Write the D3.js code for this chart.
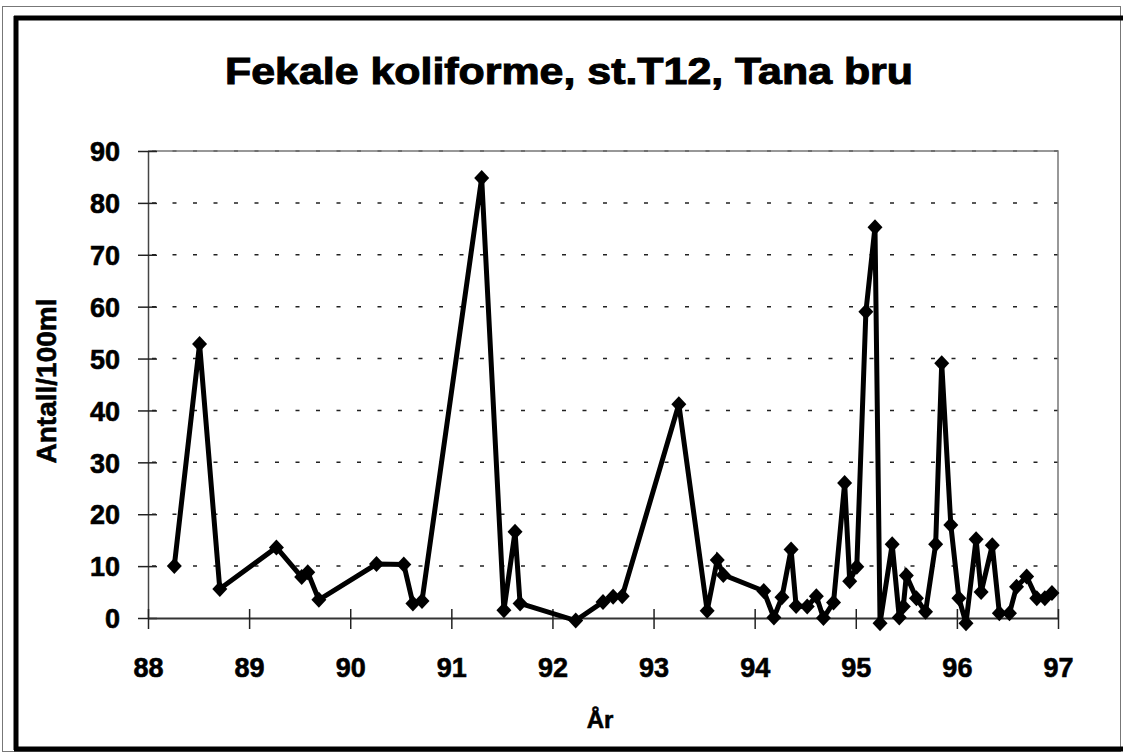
<!DOCTYPE html>
<html>
<head>
<meta charset="utf-8">
<script src="https://cdn.jsdelivr.net/npm/d3@7"></script>
<style>
  body { margin: 0; background: #fff; }
  text { font-family: "Liberation Sans", Arial, sans-serif; font-weight: bold; fill: #000; stroke: #000; stroke-width: 0.6px; }
</style>
</head>
<body>
<div id="chart"></div>
<script>
// sampling dates (decimal year, 88 = 1988) and counts per 100 ml
const years = [
  88.26, 88.51, 88.71, 89.27, 89.52, 89.58, 89.69, 90.26, 90.53, 90.62,
  90.71, 91.30, 91.52, 91.63, 91.68, 92.23, 92.50, 92.60, 92.69, 93.25,
  93.53, 93.63, 93.69, 94.09, 94.19, 94.27, 94.36, 94.41, 94.52, 94.61,
  94.68, 94.78, 94.89, 94.94, 95.01, 95.10, 95.19, 95.24, 95.36, 95.43,
  95.47, 95.50, 95.60, 95.69, 95.79, 95.85, 95.94, 96.02, 96.09, 96.19,
  96.24, 96.35, 96.42, 96.52, 96.59, 96.69, 96.79, 96.87, 96.94
];
const counts = [
  10.0, 52.8, 5.6, 13.6, 7.9, 8.8, 3.5, 10.4, 10.3, 2.8,
  3.3, 84.8, 1.5, 16.6, 2.8, -0.5, 3.1, 4.1, 4.2, 41.2,
  1.4, 11.2, 8.3, 5.2, 0.1, 4.0, 13.2, 2.3, 2.2, 4.2,
  0.0, 3.0, 26.0, 7.1, 9.9, 59.0, 75.3, -1.0, 14.2, 0.1,
  2.2, 8.2, 3.8, 1.2, 14.2, 49.1, 17.9, 3.8, -1.0, 15.2,
  5.0, 14.0, 0.9, 0.9, 6.0, 8.0, 3.8, 3.8, 4.8
];
const xTicks = [88, 89, 90, 91, 92, 93, 94, 95, 96, 97];
const yTicks = [0, 10, 20, 30, 40, 50, 60, 70, 80, 90];

const title = 'Fekale koliforme, st.T12, Tana bru';
const xTitle = 'År';
const yTitle = 'Antall/100ml';

const data = years.map((y, i) => ({ year: y, value: counts[i] }));

const W = 1123, H = 755;
const svg = d3.select('#chart').append('svg')
  .attr('width', W)
  .attr('height', H);

// page frame
svg.append('rect')
  .attr('x', 2.5).attr('y', 6.5).attr('width', 1118).attr('height', 745)
  .attr('fill', 'none').attr('stroke', '#777').attr('stroke-width', 1);
const frame = svg.append('g').attr('stroke', '#000').attr('stroke-width', 5);
frame.append('line').attr('x1', 14).attr('y1', 18).attr('x2', 1123).attr('y2', 18);
frame.append('line').attr('x1', 16).attr('y1', 16).attr('x2', 16).attr('y2', 750);
frame.append('line').attr('x1', 14).attr('y1', 749).attr('x2', 1123).attr('y2', 749);

const margin = { left: 148, right: 1058, top: 151, bottom: 618 };

const x = d3.scaleLinear().domain([88, 97]).range([margin.left, margin.right]);
const y = d3.scaleLinear().domain([0, 90]).range([margin.bottom, margin.top]);

// title
svg.append('text')
  .attr('x', 569).attr('y', 84)
  .attr('text-anchor', 'middle')
  .attr('textLength', 688)
  .attr('lengthAdjust', 'spacingAndGlyphs')
  .style('font-size', '37px')
  .style('stroke-width', '1px')
  .text(title);

// gridlines
svg.append('g')
  .selectAll('line')
  .data(yTicks.filter(d => d > 0))
  .join('line')
  .attr('x1', margin.left + 4).attr('x2', margin.right)
  .attr('y1', d => y(d)).attr('y2', d => y(d))
  .attr('stroke', '#222').attr('stroke-width', 1.5)
  .attr('stroke-dasharray', '4 16.5');

// plot area border (top / right)
svg.append('path')
  .attr('d', `M${margin.left},${margin.top}H${margin.right}V${margin.bottom}`)
  .attr('fill', 'none').attr('stroke', '#777').attr('stroke-width', 1.5);

// axes
const yAxis = d3.axisLeft(y).tickValues(yTicks).tickSizeOuter(0);
const gy = svg.append('g').attr('transform', `translate(${margin.left},0)`).call(yAxis);
gy.selectAll('.tick line').attr('x1', -10).attr('x2', 9)
  .attr('stroke', '#222').attr('stroke-width', 1.5);
gy.select('.domain').attr('stroke', '#444').attr('stroke-width', 1.5);
gy.selectAll('text')
  .style('font-size', '27px')
  .style('font-family', '"Liberation Sans", Arial, sans-serif')
  .attr('x', -28).attr('dy', '0.36em');

const xAxis = d3.axisBottom(x).tickValues(xTicks).tickSizeOuter(0).tickFormat(d3.format('d'));
const gx = svg.append('g').attr('transform', `translate(0,${margin.bottom})`).call(xAxis);
gx.selectAll('.tick line').attr('y1', -9).attr('y2', 11)
  .attr('stroke', '#222').attr('stroke-width', 1.5);
gx.select('.domain').attr('stroke', '#333').attr('stroke-width', 2);
gx.selectAll('text')
  .style('font-size', '27px')
  .style('font-family', '"Liberation Sans", Arial, sans-serif')
  .attr('y', 49).attr('dy', '0.36em');

// axis titles
svg.append('text')
  .attr('x', 600).attr('y', 728)
  .attr('text-anchor', 'middle')
  .style('font-size', '24px')
  .text(xTitle);

svg.append('text')
  .attr('transform', 'translate(56,381) rotate(-90)')
  .attr('text-anchor', 'middle')
  .style('font-size', '28px')
  .text(yTitle);

// series
const line = d3.line().x(d => x(d.year)).y(d => y(d.value));
svg.append('path')
  .datum(data)
  .attr('d', line)
  .attr('fill', 'none')
  .attr('stroke', '#000')
  .attr('stroke-width', 5)
  .attr('stroke-linejoin', 'miter');

svg.append('g')
  .selectAll('path')
  .data(data)
  .join('path')
  .attr('transform', d => `translate(${x(d.year)},${y(d.value)})`)
  .attr('d', 'M0,-8L7.5,0L0,8L-7.5,0Z')
  .attr('fill', '#000');
</script>
</body>
</html>
